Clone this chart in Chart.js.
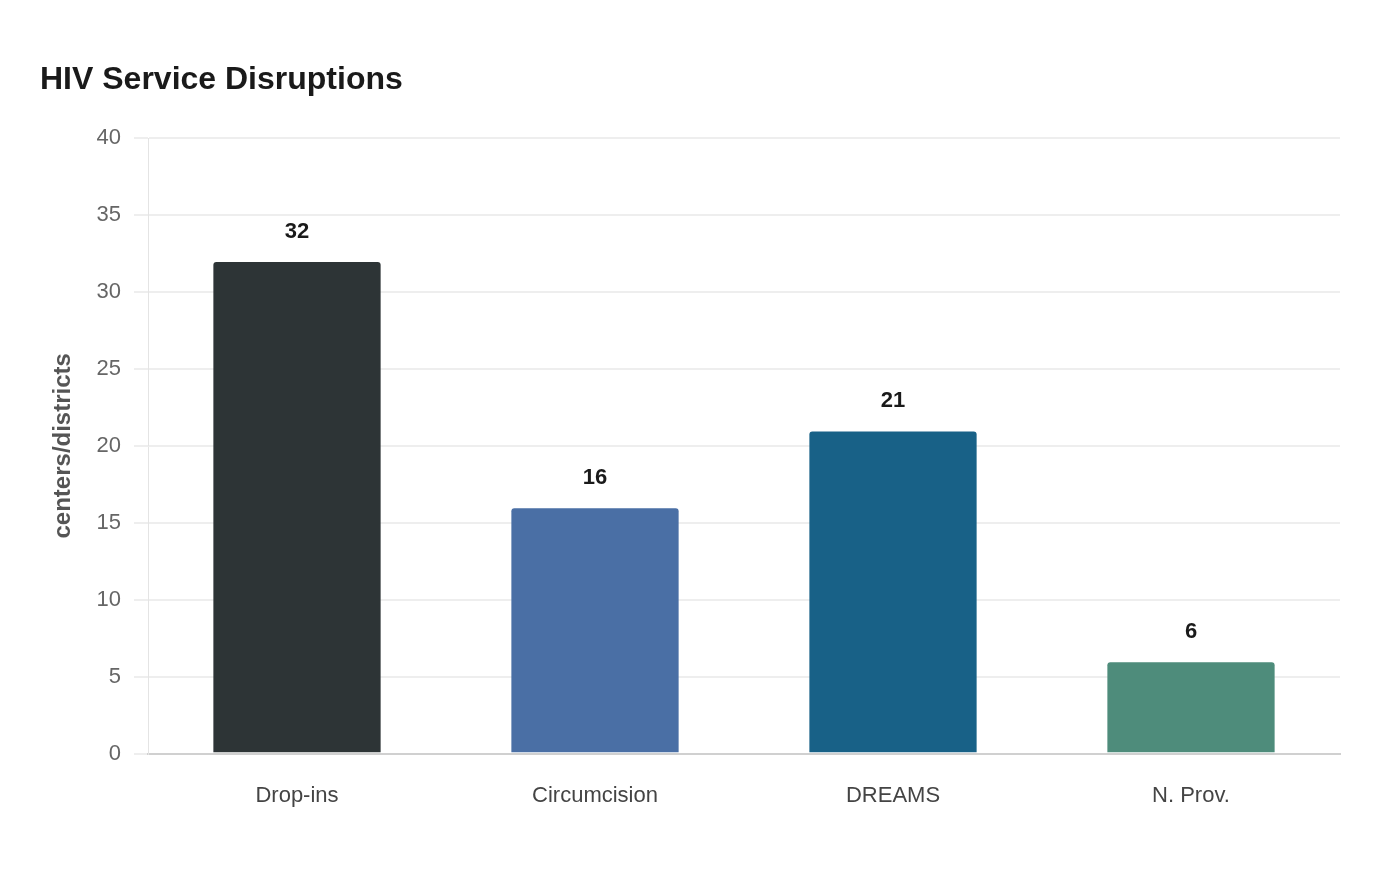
<!DOCTYPE html>
<html>
<head>
<meta charset="utf-8">
<title>HIV Service Disruptions</title>
<script src="https://cdn.jsdelivr.net/npm/chart.js@4.4.1/dist/chart.umd.min.js"></script>
<style>
  html, body { margin: 0; padding: 0; background: #ffffff; }
  #wrap { width: 1400px; height: 880px; }
</style>
</head>
<body>
<div id="wrap"><canvas id="chart" width="1400" height="880"></canvas></div>
<script>
// Datos del gráfico
const categories = ["Drop-ins", "Circumcision", "DREAMS", "N. Prov."];
const disruptions = [32, 16, 21, 6];
const barColors = ["#2d3436", "#4a6fa5", "#186187", "#4e8c7b"];
const yTicks = [0, 5, 10, 15, 20, 25, 30, 35, 40];

const FONT = "'Liberation Sans', Arial, Helvetica, sans-serif";

// Etiquetas de valor encima de cada barra
const valueLabels = {
  id: "valueLabels",
  afterDatasetsDraw(chart) {
    const ctx = chart.ctx;
    const meta = chart.getDatasetMeta(0);
    ctx.save();
    ctx.font = "bold 22px " + FONT;
    ctx.fillStyle = "#1a1a1a";
    ctx.textAlign = "center";
    ctx.textBaseline = "middle";
    meta.data.forEach((bar, i) => {
      ctx.fillText(String(disruptions[i]), bar.x, bar.y - 29);
    });
    ctx.restore();
  },
};

Chart.defaults.font.family = FONT;

new Chart(document.getElementById("chart").getContext("2d"), {
  type: "bar",
  data: {
    labels: categories,
    datasets: [
      {
        data: disruptions,
        backgroundColor: barColors,
        borderColor: "rgba(255,255,255,0.25)",
        borderWidth: 1,
        borderSkipped: "bottom",
        borderRadius: { topLeft: 4, topRight: 4, bottomLeft: 0, bottomRight: 0 },
        categoryPercentage: 0.8,
        barPercentage: 0.71,
      },
    ],
  },
  options: {
    responsive: false,
    animation: false,
    layout: { padding: { left: 40, right: 60, top: 40, bottom: 42 } },
    plugins: {
      legend: { display: false },
      tooltip: { enabled: false },
      title: {
        display: true,
        text: "HIV Service Disruptions",
        align: "start",
        color: "#1a1a1a",
        font: { size: 32, weight: "bold" },
        padding: { top: 21, bottom: 38.6 },
      },
    },
    scales: {
      x: {
        grid: { display: false, drawTicks: false },
        border: { display: true, color: "#d0d0d0", width: 2 },
        ticks: { color: "#444444", font: { size: 22 }, padding: 29 },
      },
      y: {
        min: 0,
        max: 40,
        afterBuildTicks: (scale) => {
          scale.ticks = yTicks.map((v) => ({ value: v }));
        },
        afterFit: (scale) => {
          scale.width = 108;
        },
        grid: { color: "#eeeeee", lineWidth: 2, tickLength: 14 },
        border: { display: true, color: "#e4e4e4", width: 1 },
        ticks: { color: "#666666", font: { size: 22 }, padding: 13 },
        title: {
          display: true,
          text: "centers/districts",
          color: "#555555",
          font: { size: 24, weight: "bold" },
          padding: { top: 9, bottom: 4 },
        },
      },
    },
  },
  plugins: [valueLabels],
});
</script>
</body>
</html>
